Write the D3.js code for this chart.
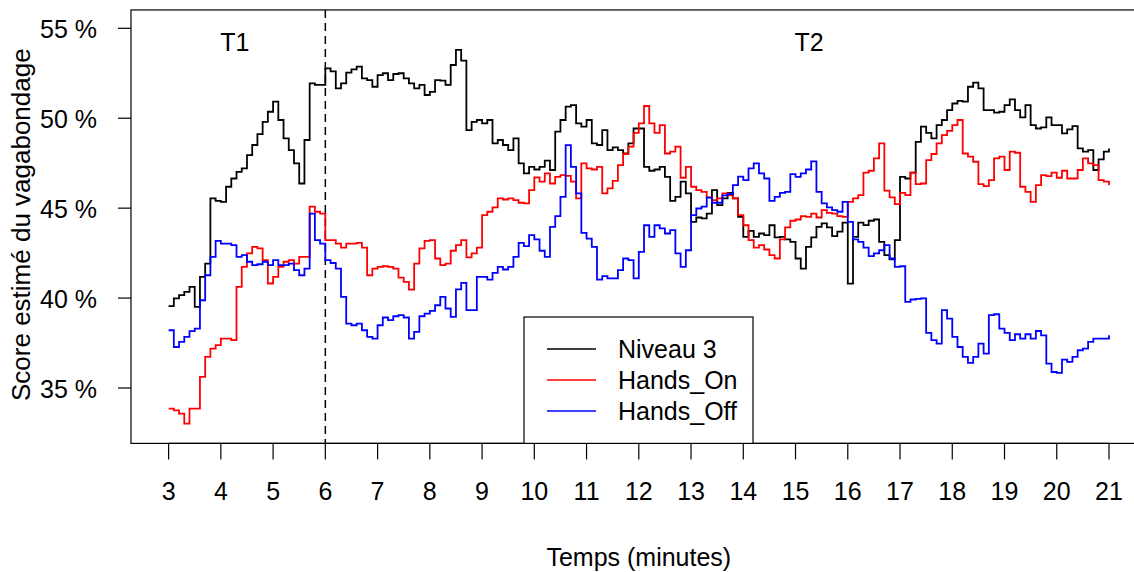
<!DOCTYPE html>
<html>
<head>
    <meta charset="utf-8">
    <title>Score estimé du vagabondage</title>
    <script type="text/javascript" src="https://cdn.jsdelivr.net/npm/d3@7/dist/d3.min.js"></script>
    <style>
        body { margin: 0; background: #ffffff; }
        text { font-family: "Liberation Sans", Arial, sans-serif; fill: #000000; }
    </style>
</head>
<body>
<script type="text/javascript">
var width = 1134
var height = 572

// time grid, one sample every 0.1 minute from 3 to 21
var minutes = d3.range(30, 211).map(function(d){ return d / 10 })

// scores in %
var niveau3 = [
  39.55, 39.98, 40.16, 40.35, 40.62, 39.51, 41.18, 41.92, 45.54, 45.41,
  45.35, 46.19, 46.65, 47.02, 47.21, 47.95, 48.51, 49.12, 49.8, 50.36,
  50.92, 49.9, 48.88, 48.23, 47.49, 46.37, 48.79, 51.94, 51.85, 51.85,
  52.77, 52.6, 51.66, 51.94, 52.53, 52.72, 52.87, 52.22, 52.12, 51.75,
  52.4, 52.5, 52.12, 52.46, 52.5, 52.22, 51.94, 51.66, 51.85, 51.29,
  51.47, 52.12, 52.09, 51.85, 52.96, 53.8, 53.2, 49.34, 49.8, 49.9,
  49.71, 49.9, 48.6, 48.79, 48.51, 48.23, 48.88, 47.49, 46.93, 47.3,
  47.15, 47.3, 47.64, 47.12, 49.25, 49.9, 50.64, 50.73, 49.71, 49.53,
  49.9, 48.6, 48.51, 49.34, 48.23, 48.38, 48.23, 48.04, 48.6, 49.43,
  49.43, 47.3, 47.08, 47.15, 47.3, 46.74, 45.4, 45.63, 46.47, 45.82,
  44.24, 44.48, 44.43, 44.7, 46.0, 45.17, 45.54, 45.85, 45.54, 44.52,
  43.4, 43.74, 43.4, 43.59, 43.5, 44.05, 43.37, 43.4, 43.26, 43.13,
  42.2, 41.64, 42.85, 43.37, 43.96, 44.15, 43.93, 43.44, 43.7, 44.2,
  40.8, 43.4, 44.19, 44.06, 44.3, 44.37, 43.13, 42.39, 42.15, 43.22,
  46.74, 46.65, 46.97, 48.69, 49.53, 49.19, 48.88, 49.62, 49.9, 50.45,
  50.82, 50.97, 50.92, 51.75, 51.98, 51.66, 50.45, 50.45, 50.31, 50.36,
  50.73, 51.05, 50.45, 50.05, 50.73, 49.62, 49.43, 49.49, 50.05, 49.62,
  49.62, 49.16, 49.38, 49.56, 48.32, 48.14, 48.23, 47.12, 47.71, 48.14,
  48.32
]

var handsOn = [
  33.85, 33.76, 33.57, 33.02, 33.85, 33.85, 35.62, 36.73, 37.19, 37.38,
  37.75, 37.75, 37.66, 40.62, 41.74, 42.48, 42.85, 42.76, 42.11, 40.81,
  41.18, 41.74, 42.02, 42.11, 41.92, 42.29, 42.29, 45.08, 44.8, 44.7,
  43.22, 43.22, 43.03, 42.81, 43.03, 43.03, 43.07, 42.81, 41.27, 41.64,
  41.74, 41.77, 41.74, 41.64, 41.14, 40.9, 40.47, 41.92, 42.76, 43.18,
  43.22, 42.2, 41.83, 41.92, 42.63, 42.94, 43.22, 42.26, 42.48, 42.81,
  44.61, 44.8, 45.04, 45.54, 45.48, 45.54, 45.45, 45.3, 45.26, 46.0,
  46.71, 46.47, 46.93, 46.37, 46.74, 46.84, 46.8, 46.47, 45.54, 47.49,
  47.21, 47.15, 47.3, 45.82, 46.1, 46.52, 47.39, 48.01, 48.42, 49.19,
  49.71, 50.68, 49.71, 49.19, 49.62, 48.04, 48.14, 48.42, 46.69, 47.3,
  46.19, 46.0, 45.91, 45.6, 45.45, 45.54, 45.82, 45.72, 45.54, 44.61,
  44.05, 43.22, 42.81, 42.94, 42.7, 42.39, 42.2, 43.26, 43.93, 44.3,
  44.37, 44.56, 44.52, 44.7, 44.48, 44.89, 44.74, 44.7, 44.56, 44.52,
  45.35, 45.54, 45.72, 46.97, 47.08, 47.77, 48.6, 45.97, 45.6, 45.22,
  45.85, 45.72, 46.97, 46.34, 46.37, 47.67, 48.01, 48.6, 49.06, 49.3,
  49.62, 49.9, 48.04, 47.86, 47.58, 46.34, 46.23, 46.56, 47.77, 47.86,
  47.12, 48.14, 48.08, 46.19, 45.91, 45.35, 46.28, 46.84, 46.78, 46.97,
  46.69, 47.08, 46.65, 46.65, 47.12, 47.77, 47.49, 47.39, 46.56, 46.47,
  46.28
]

var handsOff = [
  38.21, 37.28, 37.56, 37.84, 38.16, 38.3, 39.88, 41.27, 42.29, 43.18,
  43.03, 43.03, 42.94, 42.29, 42.39, 42.02, 41.83, 41.88, 42.02, 41.83,
  42.11, 41.83, 41.83, 41.92, 41.55, 41.27, 41.64, 44.7, 43.22, 43.03,
  42.11, 41.95, 41.64, 40.07, 38.58, 38.49, 38.58, 38.21, 37.84, 37.75,
  38.49, 38.92, 38.77, 38.99, 39.05, 38.92, 37.75, 38.12, 38.99, 39.14,
  39.29, 39.6, 40.07, 39.42, 38.95, 40.48, 40.85, 39.33, 39.33, 41.18,
  41.18, 41.03, 41.4, 41.74, 41.59, 41.74, 42.29, 43.07, 42.89, 43.5,
  43.26, 42.63, 42.29, 43.96, 44.56, 45.63, 48.5, 47.3, 45.82, 43.63,
  43.31, 42.85, 41.03, 41.22, 41.09, 41.09, 41.55, 42.2, 42.11, 41.09,
  42.57, 44.05, 43.4, 44.05, 43.87, 43.59, 43.78, 42.48, 41.74, 42.66,
  44.61, 44.98, 45.08, 45.58, 45.3, 45.3, 45.71, 45.78, 46.28, 46.75,
  46.56, 47.21, 47.49, 46.93, 46.65, 45.41, 45.63, 45.85, 45.91, 46.89,
  46.74, 46.93, 47.15, 47.6, 45.91, 45.26, 45.04, 44.89, 44.8, 45.35,
  44.24, 43.26, 43.13, 42.81, 42.33, 42.48, 42.66, 42.94, 42.2, 41.74,
  41.77, 39.79, 39.92, 39.96, 39.98, 38.06, 37.66, 37.47, 39.33, 38.86,
  37.84, 37.28, 36.73, 36.4, 36.73, 37.47, 36.91, 39.05, 39.1, 38.3,
  38.06, 37.66, 37.99, 37.75, 37.99, 37.75, 38.17, 37.93, 36.36, 35.89,
  35.84, 36.58, 36.45, 36.73, 37.1, 37.19, 37.56, 37.75, 37.75, 37.75,
  37.93
]

var seriesNames = ["Niveau 3", "Hands_On", "Hands_Off"]
var seriesColors = ["#000000", "#ff0000", "#0000ff"]
var xTicks = [3, 4, 5, 6, 7, 8, 9, 10, 11, 12, 13, 14, 15, 16, 17, 18, 19, 20, 21]
var yTicks = [35, 40, 45, 50, 55]
var yTickLabels = ["35 %", "40 %", "45 %", "50 %", "55 %"]
var phaseLabels = ["T1", "T2"]
var phasePos = [4.27, 15.26]
var phaseSplit = 6

var svg = d3.select("body")
    .append("svg").attr("width", width)
    .attr("height", height)

var x = d3.scaleLinear().domain([3, 21]).range([168.6, 1109])
var y = d3.scaleLinear().domain([35, 55]).range([388, 28.3])

// plot box (R style, 4% padding on each side)
var x0 = x(2.28), x1 = x(21.72), yTop = y(56.02), yBot = y(31.92)

svg.append("rect")
    .attr("x", x0).attr("y", yTop)
    .attr("width", x1 - x0).attr("height", yBot - yTop)
    .attr("fill", "none")
    .attr("stroke", "#000000")
    .attr("stroke-width", 1.2)

// x axis
var gx = svg.append("g")
gx.append("line")
    .attr("x1", x(3)).attr("x2", x(21))
    .attr("y1", yBot).attr("y2", yBot)
    .attr("stroke", "#000000").attr("stroke-width", 1.2)
gx.selectAll(".xt").data(xTicks).enter().append("line")
    .attr("x1", function(d){ return x(d) }).attr("x2", function(d){ return x(d) })
    .attr("y1", yBot).attr("y2", yBot + 16)
    .attr("stroke", "#000000").attr("stroke-width", 1.2)
gx.selectAll("text").data(xTicks).enter().append("text")
    .attr("x", function(d){ return x(d) })
    .attr("y", 500)
    .attr("text-anchor", "middle")
    .attr("font-size", 25)
    .text(function(d){ return d })

svg.append("text")
    .attr("x", (x0 + x1) / 2)
    .attr("y", 566)
    .attr("text-anchor", "middle")
    .attr("font-size", 25)
    .text("Temps (minutes)")

// y axis
var gy = svg.append("g")
gy.selectAll("line").data(yTicks).enter().append("line")
    .attr("x1", x0 - 13).attr("x2", x0)
    .attr("y1", function(d){ return y(d) }).attr("y2", function(d){ return y(d) })
    .attr("stroke", "#000000").attr("stroke-width", 1.2)
gy.selectAll("text").data(yTicks).enter().append("text")
    .attr("x", 97)
    .attr("y", function(d){ return y(d) + 10 })
    .attr("text-anchor", "end")
    .attr("font-size", 25)
    .text(function(d, i){ return yTickLabels[i] })

svg.append("text")
    .attr("transform", "translate(30," + ((yTop + yBot) / 2 - 2) + ") rotate(-90)")
    .attr("text-anchor", "middle")
    .attr("font-size", 26)
    .text("Score estimé du vagabondage")

// phase separator and labels
svg.append("line")
    .attr("x1", x(phaseSplit)).attr("x2", x(phaseSplit))
    .attr("y1", yTop).attr("y2", yBot)
    .attr("stroke", "#000000")
    .attr("stroke-width", 1.5)
    .attr("stroke-dasharray", "8,5")

svg.selectAll(".phase").data(phaseLabels).enter().append("text")
    .attr("x", function(d, i){ return x(phasePos[i]) })
    .attr("y", y(54.25) + 9)
    .attr("text-anchor", "middle")
    .attr("font-size", 25)
    .text(function(d){ return d })

// series
var allSeries = [niveau3, handsOn, handsOff]
var line = d3.line()
    .x(function(d){ return x(d[0]) })
    .y(function(d){ return y(d[1]) })
    .curve(d3.curveStepAfter)

allSeries.forEach(function(vals, i){
    var pts = minutes.map(function(m, j){ return [m, vals[j]] })
    svg.append("path")
        .attr("d", line(pts))
        .attr("fill", "none")
        .attr("stroke", seriesColors[i])
        .attr("stroke-width", 1.8)
        .attr("stroke-linejoin", "miter")
})

// legend
var lg = svg.append("g")
lg.append("rect")
    .attr("x", 524).attr("y", 317)
    .attr("width", 229).attr("height", yBot - 317)
    .attr("fill", "#ffffff")
    .attr("stroke", "#000000")
    .attr("stroke-width", 1.2)
seriesNames.forEach(function(name, i){
    var ly = 349 + i * 31
    lg.append("line")
        .attr("x1", 547).attr("x2", 596)
        .attr("y1", ly).attr("y2", ly)
        .attr("stroke", seriesColors[i])
        .attr("stroke-width", 1.5)
    lg.append("text")
        .attr("x", 618).attr("y", ly + 9)
        .attr("font-size", 25)
        .text(name)
})
</script>
</body>
</html>
